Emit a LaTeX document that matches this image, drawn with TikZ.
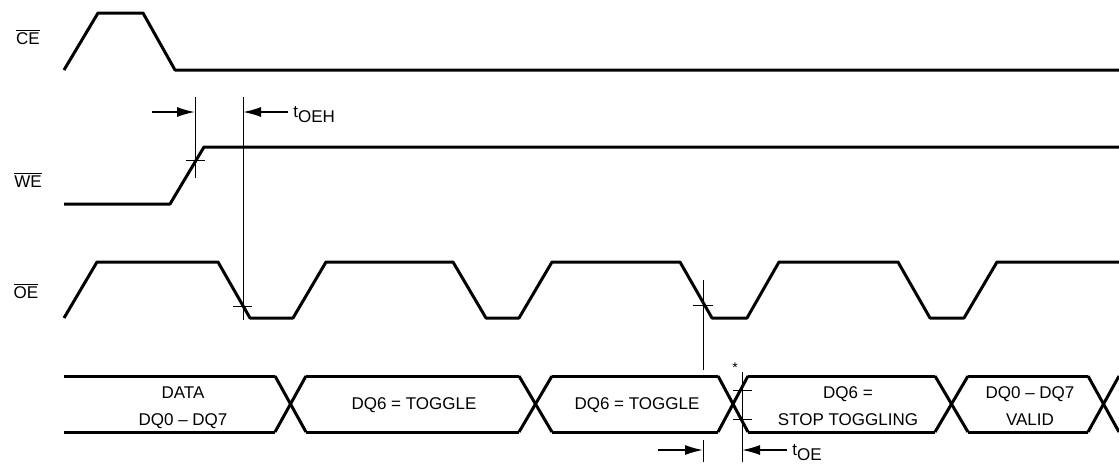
\documentclass[tikz,border=0pt]{standalone}
\usepackage{fontspec}
\setmainfont{Liberation Sans}
\usetikzlibrary{arrows.meta}

\def\busseg#1#2{%
  \draw[sig] (#1,376) -- (#2,376);
  \draw[sig] (#1,432) -- (#2,432);
}
\def\busx#1#2{%
  \draw[sig] (#1,376) -- (#2,432);
  \draw[sig] (#1,432) -- (#2,376);
}

\begin{document}
\begin{tikzpicture}[x=0.5pt,y=-0.5pt,
  sig/.style={line width=1.5pt,line join=round},
  guide/.style={line width=0.5pt},
  dimarr/.style={line width=0.8pt,-{Latex[length=9pt,width=5pt]}},
  every node/.style={font=\fontsize{8.5}{13.5}\selectfont}]
\useasboundingbox (0,0) rectangle (1119,468);
\draw (28,37) node (ce) {$\overline{\mbox{CE}}$};
\draw (28,180) node (we) {$\overline{\mbox{WE}}$};
\draw (26,291) node (oe) {$\overline{\mbox{OE}}$};
\draw[sig] (64,70) -- (98,13) -- (143,13) -- (175,70) -- (1119,70);
\draw[sig] (64,204) -- (170,204) -- (204,147) -- (1119,147);
\draw[sig] (64,318) -- (97,262) -- (218,262) -- (250,318) -- (293,318) -- (326,262)
  -- (453,262) -- (486,318) -- (519,318) -- (552,262) -- (680,262) -- (712,318)
  -- (747,318) -- (779,262) -- (898,262) -- (930,318) -- (964,318) -- (997,262) -- (1119,262);
\busseg{64}{275}  \busx{275}{306}
\busseg{306}{519} \busx{519}{552}
\busseg{552}{718} \busx{718}{748}
\busseg{748}{935} \busx{935}{968}
\busseg{968}{1088} \busx{1088}{1119}
\draw (183,408) node[align=center] (d0) {DATA\\DQ0 -- DQ7};
\draw (414,405) node (d1) {DQ6 = TOGGLE};
\draw (637,405) node (d2) {DQ6 = TOGGLE};
\draw (848,406) node[align=center] (d3) {DQ6 =\\STOP TOGGLING};
\draw (1030,406) node[align=center] (d4) {DQ0 -- DQ7\\VALID};
% tOEH
\coordinate (g1a) at (195,97); \coordinate (g1b) at (195,178);
\coordinate (g2a) at (243,97); \coordinate (g2b) at (243,320);
\draw[guide] (g1a) -- (g1b);
\draw[guide] (186,160) -- (205,160);
\draw[guide] (g2a) -- (g2b);
\draw[guide] (233,306) -- (252,306);
\coordinate (a1) at (152,112); \coordinate (a1e) at (195,112);
\draw[dimarr] (a1) -- (a1e);
\draw (288,112) node[anchor=west,inner sep=2.5pt] (toeh) {t\smash{\raisebox{-2.5pt}{OEH}}};
\draw[dimarr] (toeh.west) -- (243,112);
% tOE
\coordinate (g3a) at (703,280); \coordinate (g3b) at (703,370);
\coordinate (g3c) at (703,440); \coordinate (g3d) at (703,462);
\coordinate (g4a) at (742,372); \coordinate (g4b) at (742,462);
\draw[guide] (g3a) -- (g3b);
\draw[guide] (g3c) -- (g3d);
\draw[guide] (693,305) -- (713,305);
\draw[guide] (g4a) -- (g4b);
\draw[guide] (733,390) -- (752,390);
\draw[guide] (733,419) -- (752,419);
\draw (735,368) node[font=\fontsize{7}{7}\selectfont,inner sep=0pt] (star) {*};
\coordinate (a2) at (658,450); \coordinate (a2e) at (703,450);
\draw[dimarr] (a2) -- (a2e);
\draw (787,450) node[anchor=west,inner sep=2.5pt] (toe) {t\smash{\raisebox{-2.5pt}{OE}}};
\draw[dimarr] (toe.west) -- (742,450);
\end{tikzpicture}
\end{document}
